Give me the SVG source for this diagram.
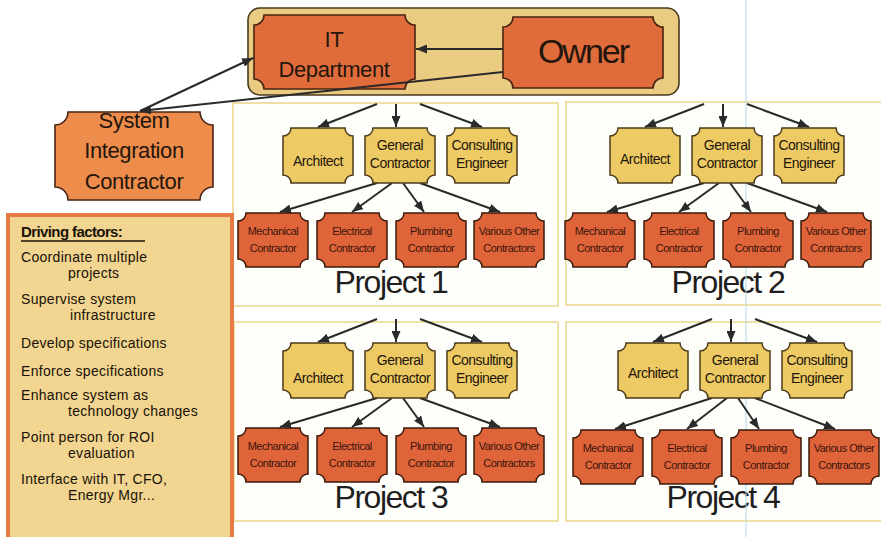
<svg xmlns="http://www.w3.org/2000/svg" xmlns:xlink="http://www.w3.org/1999/xlink" width="881" height="537" viewBox="0 0 881 537">
  <style>
    text { font-family: "Liberation Sans", Arial, sans-serif; fill: #24160c; text-anchor: middle; }
    .panel { fill: #fefefa; stroke: #f0e0a6; stroke-width: 2; }
    .plabel { font-size: 32px; letter-spacing: -1.5px; fill: #1e1e1e; }
    .lead { fill: #e06c3c; stroke: #4a2412; stroke-width: 1.6; }
    .sic { fill: #ee8c4b; stroke: #4a2412; stroke-width: 1.6; }
    .yel { fill: #edca63; stroke: #4a3a1a; stroke-width: 1.5; }
    .red { fill: #e0643a; stroke: #3a1a0a; stroke-width: 1.5; }
    .t14 { font-size: 14px; letter-spacing: -0.5px; }
    .t11 { font-size: 11px; letter-spacing: -0.5px; fill: #3a140a; }
    .big { font-size: 22px; letter-spacing: -0.4px; }
    .df { font-size: 14px; text-anchor: start; fill: #1a1208; letter-spacing: 0.3px; }
    .conn line { stroke: #2a2a2a; stroke-width: 2; marker-end: url(#arrow); }
  </style>
  <defs>
    <marker id="arrow" markerUnits="userSpaceOnUse" markerWidth="11" markerHeight="9" refX="11" refY="4.5" orient="auto">
      <path d="M0,0 L11,4.5 L0,9 Z" fill="#2a2a2a"/>
    </marker>
    <!-- plaque tiles with concave corners -->
    <path id="tile-top" d="M8,0 H62 A8,8 0 0 0 70,8 V47 A8,8 0 0 0 62,55 H8 A8,8 0 0 0 0,47 V8 A8,8 0 0 0 8,0 Z"/>
    <path id="tile-sub" d="M8,0 H62 A8,8 0 0 0 70,8 V46 A8,8 0 0 0 62,54 H8 A8,8 0 0 0 0,46 V8 A8,8 0 0 0 8,0 Z"/>
  </defs>

  <rect width="881" height="537" fill="#ffffff"/>

  <!-- project panels -->
  <g id="panel-1"><rect class="panel" x="233" y="103" width="325" height="203"/><text class="plabel" x="391" y="293">Project 1</text></g>
  <g id="panel-2"><rect class="panel" x="566" y="102" width="322" height="203"/><text class="plabel" x="728" y="293">Project 2</text></g>
  <g id="panel-3"><rect class="panel" x="234" y="322" width="324" height="199"/><text class="plabel" x="391" y="508">Project 3</text></g>
  <g id="panel-4"><rect class="panel" x="566" y="322" width="322" height="199"/><text class="plabel" x="723" y="508">Project 4</text></g>

  <!-- guide line -->
  <line x1="746" y1="0" x2="746" y2="537" stroke="#a9dde9" stroke-width="1"/>

  <!-- leadership band -->
  <g id="leadership">
    <rect x="248" y="8" width="431" height="87" rx="12" fill="#e9cb82" stroke="#4a3a20" stroke-width="1.6"/>
  </g>
  <g id="it-department">
    <path class="lead" d="M264,15 H405 A10,10 0 0 0 415,25 V79 A10,10 0 0 0 405,89 H264 A10,10 0 0 0 254,79 V25 A10,10 0 0 0 264,15 Z"/>
    <text class="big" x="334" y="47">IT</text>
    <text class="big" x="334" y="77">Department</text>
  </g>
  <g id="owner">
    <path class="lead" d="M513,17 H653 A10,10 0 0 0 663,27 V78 A10,10 0 0 0 653,88 H513 A10,10 0 0 0 503,78 V27 A10,10 0 0 0 513,17 Z"/>
    <text x="583" y="63" style="font-size:34px;letter-spacing:-2px">Owner</text>
  </g>
  <g id="system-integration-contractor">
    <path class="sic" d="M68,112 H200 A13,13 0 0 0 213,125 V187 A13,13 0 0 0 200,200 H68 A13,13 0 0 0 55,187 V125 A13,13 0 0 0 68,112 Z"/>
    <text class="big" x="134" y="128">System</text>
    <text class="big" x="134" y="158">Integration</text>
    <text class="big" x="134" y="189">Contractor</text>
  </g>

  <!-- driving factors -->
  <g id="driving-factors">
    <rect x="8" y="215" width="224" height="330" fill="#f1d590" stroke="#e67a44" stroke-width="4"/>
    <text class="df" x="21" y="237" style="font-size:15px;font-weight:bold;letter-spacing:-0.6px">Driving factors:</text>
    <line x1="21" y1="241" x2="145" y2="241" stroke="#1a1208" stroke-width="1.4"/>
    <text class="df"><tspan x="21" y="262">Coordinate multiple</tspan><tspan x="68" y="278">projects</tspan></text>
    <text class="df"><tspan x="21" y="304">Supervise system</tspan><tspan x="70" y="320">infrastructure</tspan></text>
    <text class="df" x="21" y="348">Develop specifications</text>
    <text class="df" x="21" y="376">Enforce specifications</text>
    <text class="df"><tspan x="21" y="400">Enhance system as</tspan><tspan x="68" y="416">technology changes</tspan></text>
    <text class="df"><tspan x="21" y="442">Point person for ROI</tspan><tspan x="68" y="458">evaluation</tspan></text>
    <text class="df"><tspan x="21" y="484">Interface with IT, CFO,</tspan><tspan x="68" y="500">Energy Mgr...</tspan></text>
  </g>

  <!-- connectors -->
  <g id="connectors" class="conn">
    <line x1="503" y1="49" x2="416" y2="49"/>
    <line x1="503" y1="72" x2="140" y2="111"/>
    <line x1="140" y1="111" x2="253" y2="58"/>
    <g id="conn-p1">
      <line x1="377" y1="104" x2="318" y2="127"/>
      <line x1="396" y1="104" x2="396" y2="127"/>
      <line x1="420" y1="104" x2="482" y2="127"/>
      <line x1="377" y1="183" x2="280" y2="212"/>
      <line x1="392" y1="183" x2="352" y2="212"/>
      <line x1="403" y1="183" x2="424" y2="212"/>
      <line x1="420" y1="183" x2="500" y2="212"/>
    </g>
    <g id="conn-p2" transform="translate(327,0)">
      <line x1="377" y1="104" x2="318" y2="127"/>
      <line x1="396" y1="104" x2="396" y2="127"/>
      <line x1="420" y1="104" x2="482" y2="127"/>
      <line x1="377" y1="183" x2="280" y2="212"/>
      <line x1="392" y1="183" x2="352" y2="212"/>
      <line x1="403" y1="183" x2="424" y2="212"/>
      <line x1="420" y1="183" x2="500" y2="212"/>
    </g>
    <g id="conn-p3" transform="translate(0,215)">
      <line x1="377" y1="104" x2="318" y2="127"/>
      <line x1="396" y1="104" x2="396" y2="127"/>
      <line x1="420" y1="104" x2="482" y2="127"/>
      <line x1="377" y1="183" x2="280" y2="212"/>
      <line x1="392" y1="183" x2="352" y2="212"/>
      <line x1="403" y1="183" x2="424" y2="212"/>
      <line x1="420" y1="183" x2="500" y2="212"/>
    </g>
    <g id="conn-p4" transform="translate(335,215)">
      <line x1="377" y1="104" x2="318" y2="127"/>
      <line x1="396" y1="104" x2="396" y2="127"/>
      <line x1="420" y1="104" x2="482" y2="127"/>
      <line x1="377" y1="183" x2="280" y2="214"/>
      <line x1="392" y1="183" x2="352" y2="214"/>
      <line x1="403" y1="183" x2="424" y2="214"/>
      <line x1="420" y1="183" x2="500" y2="214"/>
    </g>
  </g>

  <!-- project 1 -->
  <g id="project-1">
    <g id="p1-architect" transform="translate(283,128)"><use href="#tile-top" class="yel"/><text class="t14" x="35" y="38">Architect</text></g>
    <g id="p1-general-contractor" transform="translate(365,128)"><use href="#tile-top" class="yel"/><text class="t14" x="35" y="22">General</text><text class="t14" x="35" y="40">Contractor</text></g>
    <g id="p1-consulting-engineer" transform="translate(447,128)"><use href="#tile-top" class="yel"/><text class="t14" x="35" y="22">Consulting</text><text class="t14" x="35" y="40">Engineer</text></g>
    <g id="p1-mechanical" transform="translate(238,213)"><use href="#tile-sub" class="red"/><text class="t11" x="35" y="22">Mechanical</text><text class="t11" x="35" y="39">Contractor</text></g>
    <g id="p1-electrical" transform="translate(317,213)"><use href="#tile-sub" class="red"/><text class="t11" x="35" y="22">Electrical</text><text class="t11" x="35" y="39">Contractor</text></g>
    <g id="p1-plumbing" transform="translate(396,213)"><use href="#tile-sub" class="red"/><text class="t11" x="35" y="22">Plumbing</text><text class="t11" x="35" y="39">Contractor</text></g>
    <g id="p1-various" transform="translate(474,213)"><use href="#tile-sub" class="red"/><text class="t11" x="35" y="22">Various Other</text><text class="t11" x="35" y="39">Contractors</text></g>
  </g>

  <!-- project 2 -->
  <g id="project-2" transform="translate(327,0)">
    <g id="p2-architect" transform="translate(283,128)"><use href="#tile-top" class="yel"/><text class="t14" x="35" y="36">Architect</text></g>
    <g id="p2-general-contractor" transform="translate(365,128)"><use href="#tile-top" class="yel"/><text class="t14" x="35" y="22">General</text><text class="t14" x="35" y="40">Contractor</text></g>
    <g id="p2-consulting-engineer" transform="translate(447,128)"><use href="#tile-top" class="yel"/><text class="t14" x="35" y="22">Consulting</text><text class="t14" x="35" y="40">Engineer</text></g>
    <g id="p2-mechanical" transform="translate(238,213)"><use href="#tile-sub" class="red"/><text class="t11" x="35" y="22">Mechanical</text><text class="t11" x="35" y="39">Contractor</text></g>
    <g id="p2-electrical" transform="translate(317,213)"><use href="#tile-sub" class="red"/><text class="t11" x="35" y="22">Electrical</text><text class="t11" x="35" y="39">Contractor</text></g>
    <g id="p2-plumbing" transform="translate(396,213)"><use href="#tile-sub" class="red"/><text class="t11" x="35" y="22">Plumbing</text><text class="t11" x="35" y="39">Contractor</text></g>
    <g id="p2-various" transform="translate(474,213)"><use href="#tile-sub" class="red"/><text class="t11" x="35" y="22">Various Other</text><text class="t11" x="35" y="39">Contractors</text></g>
  </g>

  <!-- project 3 -->
  <g id="project-3" transform="translate(0,215)">
    <g id="p3-architect" transform="translate(283,128)"><use href="#tile-top" class="yel"/><text class="t14" x="35" y="40">Architect</text></g>
    <g id="p3-general-contractor" transform="translate(365,128)"><use href="#tile-top" class="yel"/><text class="t14" x="35" y="22">General</text><text class="t14" x="35" y="40">Contractor</text></g>
    <g id="p3-consulting-engineer" transform="translate(447,128)"><use href="#tile-top" class="yel"/><text class="t14" x="35" y="22">Consulting</text><text class="t14" x="35" y="40">Engineer</text></g>
    <g id="p3-mechanical" transform="translate(238,213)"><use href="#tile-sub" class="red"/><text class="t11" x="35" y="22">Mechanical</text><text class="t11" x="35" y="39">Contractor</text></g>
    <g id="p3-electrical" transform="translate(317,213)"><use href="#tile-sub" class="red"/><text class="t11" x="35" y="22">Electrical</text><text class="t11" x="35" y="39">Contractor</text></g>
    <g id="p3-plumbing" transform="translate(396,213)"><use href="#tile-sub" class="red"/><text class="t11" x="35" y="22">Plumbing</text><text class="t11" x="35" y="39">Contractor</text></g>
    <g id="p3-various" transform="translate(474,213)"><use href="#tile-sub" class="red"/><text class="t11" x="35" y="22">Various Other</text><text class="t11" x="35" y="39">Contractors</text></g>
  </g>

  <!-- project 4 -->
  <g id="project-4" transform="translate(335,215)">
    <g id="p4-architect" transform="translate(283,128)"><use href="#tile-top" class="yel"/><text class="t14" x="35" y="35">Architect</text></g>
    <g id="p4-general-contractor" transform="translate(365,128)"><use href="#tile-top" class="yel"/><text class="t14" x="35" y="22">General</text><text class="t14" x="35" y="40">Contractor</text></g>
    <g id="p4-consulting-engineer" transform="translate(447,128)"><use href="#tile-top" class="yel"/><text class="t14" x="35" y="22">Consulting</text><text class="t14" x="35" y="40">Engineer</text></g>
    <g id="p4-mechanical" transform="translate(238,215)"><use href="#tile-sub" class="red"/><text class="t11" x="35" y="22">Mechanical</text><text class="t11" x="35" y="39">Contractor</text></g>
    <g id="p4-electrical" transform="translate(317,215)"><use href="#tile-sub" class="red"/><text class="t11" x="35" y="22">Electrical</text><text class="t11" x="35" y="39">Contractor</text></g>
    <g id="p4-plumbing" transform="translate(396,215)"><use href="#tile-sub" class="red"/><text class="t11" x="35" y="22">Plumbing</text><text class="t11" x="35" y="39">Contractor</text></g>
    <g id="p4-various" transform="translate(474,215)"><use href="#tile-sub" class="red"/><text class="t11" x="35" y="22">Various Other</text><text class="t11" x="35" y="39">Contractors</text></g>
  </g>
</svg>
